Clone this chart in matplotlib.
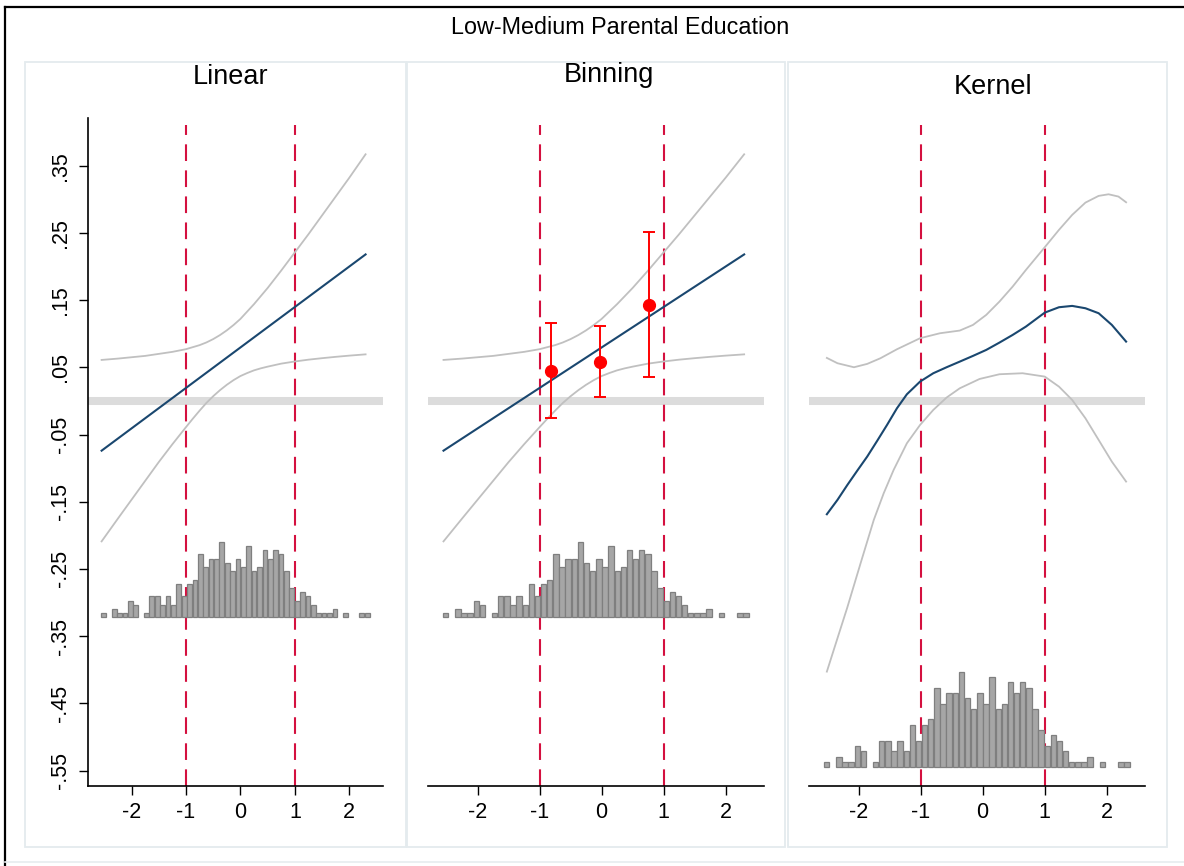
import matplotlib
matplotlib.use("Agg")
import matplotlib.pyplot as plt
from matplotlib.patches import Rectangle
from matplotlib.lines import Line2D

plt.rcParams['font.family'] = ['Liberation Sans', 'DejaVu Sans']

# ---------------- data ----------------
main_title = "Low-Medium Parental Education"
panel_titles = ["Linear", "Binning", "Kernel"]

ytick_vals = [0.35, 0.25, 0.15, 0.05, -0.05, -0.15, -0.25, -0.35, -0.45, -0.55]
ytick_labels = [".35", ".25", ".15", ".05", "-.05", "-.15", "-.25", "-.35", "-.45", "-.55"]
xtick_vals = [-2, -1, 0, 1, 2]
xtick_labels = ["-2", "-1", "0", "1", "2"]
vlines_x = [-1, 1]

# linear estimate (straight line) and its confidence band
lin_x = [-2.55, 2.3]
lin_y = [-0.074, 0.218]
ci_x = [-2.55, -2.25, -2.0, -1.75, -1.5, -1.25, -1.0, -0.875, -0.75, -0.625, -0.5, -0.375, -0.25,
        -0.125, 0.0, 0.125, 0.25, 0.375, 0.5, 0.75, 1.0, 1.25, 1.5, 1.75, 2.0, 2.3]
ci_upper = [0.061, 0.063, 0.065, 0.067, 0.070, 0.073, 0.077, 0.080, 0.083, 0.087, 0.092, 0.098, 0.105,
            0.113, 0.122, 0.133, 0.144, 0.156, 0.168, 0.194, 0.221, 0.248, 0.276, 0.304, 0.332, 0.367]
ci_lower = [-0.209, -0.175, -0.147, -0.119, -0.091, -0.0645, -0.039, -0.0265, -0.0145, -0.003, 0.007,
            0.016, 0.024, 0.031, 0.037, 0.0415, 0.0455, 0.0485, 0.051, 0.0555, 0.0587, 0.0614, 0.0636,
            0.0656, 0.0674, 0.0693]

# binning estimates
bin_x = [-0.82, -0.02, 0.766]
bin_y = [0.045, 0.058, 0.143]
bin_lo = [-0.026, 0.0064, 0.035]
bin_hi = [0.116, 0.111, 0.2515]

# kernel estimate
ker_x = [-2.512, -2.341, -2.181, -2.021, -1.861, -1.701, -1.541, -1.381, -1.221, -1.008,
         -0.795, -0.581, -0.368, -0.155, 0.059, 0.272, 0.485, 0.699, 1.003, 1.232,
         1.445, 1.659, 1.872, 2.085, 2.315]
ker_y = [-0.1686, -0.1473, -0.125, -0.1037, -0.0828, -0.0595, -0.0357, -0.0109, 0.0099, 0.0288,
         0.0412, 0.0501, 0.0585, 0.0670, 0.0759, 0.0868, 0.0982, 0.1106, 0.1314, 0.1394,
         0.1414, 0.1379, 0.1305, 0.1131, 0.0883]
ker_up_x = [-2.512, -2.341, -2.075, -1.861, -1.648, -1.381, -1.008, -0.688, -0.368, -0.155,
            0.059, 0.272, 0.485, 0.699, 1.003, 1.232, 1.445, 1.659, 1.872, 2.032, 2.192, 2.315]
ker_up_y = [0.0640, 0.0561, 0.0501, 0.0551, 0.0635, 0.0769, 0.0933, 0.1007, 0.1047, 0.1131,
            0.1280, 0.1478, 0.1701, 0.1949, 0.2287, 0.2545, 0.2768, 0.2951, 0.3051, 0.3075,
            0.3041, 0.2956]
ker_lo_x = [-2.512, -2.341, -2.181, -1.968, -1.755, -1.595, -1.435, -1.221, -1.008, -0.795,
            -0.581, -0.368, -0.048, 0.272, 0.645, 1.003, 1.232, 1.445, 1.659, 1.872, 2.085, 2.315]
ker_lo_y = [-0.4028, -0.3532, -0.3070, -0.2416, -0.1771, -0.1374, -0.1027, -0.0630, -0.0357, -0.0134,
            0.0050, 0.0188, 0.0327, 0.0397, 0.0412, 0.0362, 0.0213, 0.0015, -0.0258, -0.0580,
            -0.0903, -0.1200]

# histogram of the moderator (50 bins)
hist_first_center = -2.517
hist_bin_width = 0.0989
hist_counts = [1, 0, 2, 1, 1, 4, 3, 0, 1, 5, 5, 3, 5, 3, 8, 5, 8, 9, 15, 12,
               14, 14, 18, 13, 11, 14, 12, 17, 11, 12, 16, 14, 16, 15, 11, 7, 4, 6, 5, 3,
               1, 1, 1, 2, 0, 1, 0, 0, 1, 1]
hist_base = [-0.322, -0.322, -0.545]
hist_scale = [0.00625, 0.00625, 0.00789]

# ---------------- styling ----------------
W, H = 1184, 866
fig = plt.figure(figsize=(W / 100, H / 100), dpi=100)
fig.patch.set_facecolor("white")

def fx(px):
    return px / W

def fy(py):
    return 1 - py / H

# outer frame (left/top black)
fig.add_artist(Line2D([fx(5), fx(5)], [fy(7), fy(866)], color="black", lw=1.6, transform=fig.transFigure))
fig.add_artist(Line2D([fx(5), fx(1184)], [fy(7), fy(7)], color="black", lw=1.6, transform=fig.transFigure))
fig.add_artist(Line2D([fx(5), fx(1184)], [fy(862), fy(862)], color="#e6ecef", lw=1.2, transform=fig.transFigure))

# panel boxes
boxes = [(25, 62, 406, 847), (407, 62, 785, 847), (788, 62, 1167, 847)]
for (x0, y0, x1, y1) in boxes:
    fig.add_artist(Rectangle((fx(x0), fy(y1)), fx(x1 - x0), (y1 - y0) / H, transform=fig.transFigure,
                             facecolor="none", edgecolor="#e4ebee", lw=1.3))

fig.text(fx(620), fy(28), main_title, ha="center", va="center", fontsize=16.8)
title_pos = [(231, 77), (609, 75), (993, 87)]
for t, (tx, ty) in zip(panel_titles, title_pos):
    fig.text(fx(tx), fy(ty), t, ha="center", va="center", fontsize=19.5)

ax_left = [88, 428, 809]
ax_right = [383, 764, 1145]
ax_top, ax_bot = 118, 786

BLUE = "#1a476f"
CIGREY = "#c0c0c0"
RED = "#d4103f"

hist_centers = [hist_first_center + i * hist_bin_width for i in range(len(hist_counts))]

for i in range(3):
    ax = fig.add_axes([fx(ax_left[i]), fy(ax_bot), (ax_right[i] - ax_left[i]) / W, (ax_bot - ax_top) / H])
    ax.set_xlim(-2.8, 2.62)
    ax.set_ylim(-0.573, 0.421)
    ax.set_facecolor("none")

    ax.axhline(0, color="#dcdcdc", lw=5.8, zorder=1, solid_capstyle="butt")
    for vx in vlines_x:
        ax.axvline(vx, ymin=0, ymax=0.99, color=RED, lw=1.5, linestyle=(0, (8, 4.5)), zorder=2)

    bars_x = [c for c, n in zip(hist_centers, hist_counts) if n > 0]
    bars_h = [n * hist_scale[i] for n in hist_counts if n > 0]
    ax.bar(bars_x, bars_h, width=hist_bin_width * 0.88, bottom=hist_base[i],
           color="#a6a6a6", edgecolor="#7f7f7f", linewidth=0.9, zorder=3)

    if i < 2:
        ax.plot(ci_x, ci_upper, color=CIGREY, lw=1.3, zorder=4)
        ax.plot(ci_x, ci_lower, color=CIGREY, lw=1.3, zorder=4)
        ax.plot(lin_x, lin_y, color=BLUE, lw=1.5, zorder=5)
    else:
        ax.plot(ker_up_x, ker_up_y, color=CIGREY, lw=1.3, zorder=4)
        ax.plot(ker_lo_x, ker_lo_y, color=CIGREY, lw=1.3, zorder=4)
        ax.plot(ker_x, ker_y, color=BLUE, lw=1.5, zorder=5)

    if i == 1:
        yerr = [[y - lo for y, lo in zip(bin_y, bin_lo)], [hi - y for y, hi in zip(bin_y, bin_hi)]]
        ax.errorbar(bin_x, bin_y, yerr=yerr, fmt="o", color="#ff0000", ms=8.5, capsize=4,
                    elinewidth=1.4, capthick=1.4, zorder=6)

    for s in ["top", "right"]:
        ax.spines[s].set_visible(False)
    ax.spines["bottom"].set_linewidth(1.2)
    ax.set_xticks(xtick_vals)
    ax.set_xticklabels(xtick_labels)
    ax.tick_params(axis="x", direction="out", length=6.5, width=1.0, pad=5, labelsize=15.5)
    if i == 0:
        ax.spines["left"].set_linewidth(1.2)
        ax.set_yticks(ytick_vals)
        ax.set_yticklabels(ytick_labels, rotation=90, va="center")
        ax.tick_params(axis="y", direction="out", length=6.5, width=1.0, pad=6, labelsize=15.5)
    else:
        ax.spines["left"].set_visible(False)
        ax.set_yticks([])

fig.savefig("out.png", dpi=100)
